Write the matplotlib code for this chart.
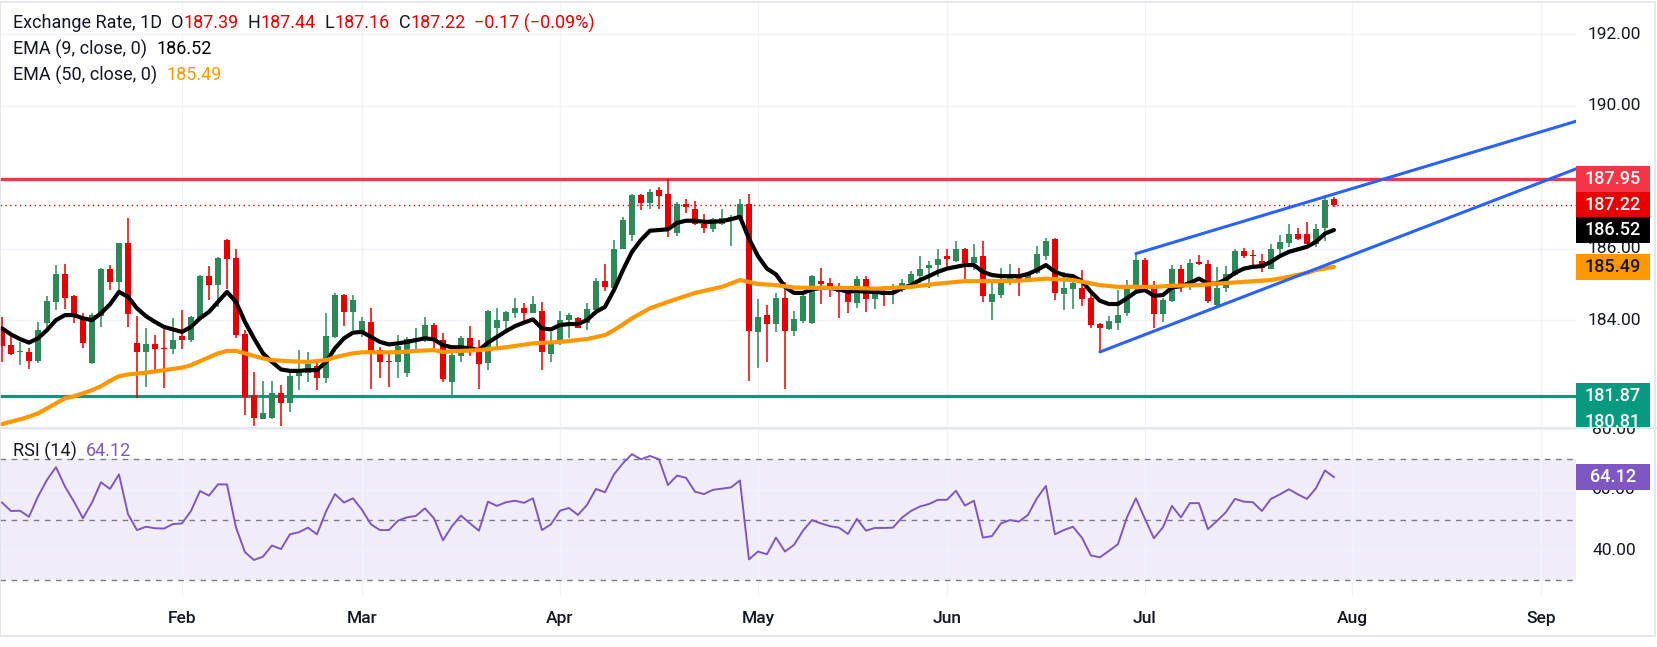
import numpy as np
import matplotlib
matplotlib.use('Agg')
import matplotlib.pyplot as plt
from matplotlib import transforms
from matplotlib.patches import Rectangle
from matplotlib.offsetbox import TextArea, HPacker, AnchoredOffsetbox

plt.rcParams['font.family'] = ['Roboto', 'DejaVu Sans']

# daily candles, one per trading day (index 0 = first bar on screen)
opens = [183.77, 183.30, 183.10, 183.10, 182.86, 183.91, 184.51, 185.30, 184.67, 184.07,
         182.81, 184.12, 185.43, 185.07, 186.15, 183.36, 183.10, 183.33, 183.22, 183.19,
         183.55, 183.44, 184.06, 185.23, 184.99, 186.24, 185.73, 183.61, 181.90, 181.24,
         181.27, 181.95, 181.67, 182.43, 182.51, 182.71, 182.39, 183.53, 184.70, 184.23,
         183.64, 183.94, 183.16, 182.86, 182.83, 182.53, 183.44, 183.51, 183.86, 183.44,
         182.27, 183.00, 183.51, 183.11, 182.81, 183.79, 183.98, 184.20, 184.34, 184.20,
         184.25, 183.05, 183.35, 184.00, 184.07, 183.93, 184.28, 185.09, 184.91, 185.98,
         186.38, 187.50, 187.28, 187.64, 187.52, 186.44, 187.24, 187.12, 186.69, 186.54,
         186.68, 186.84, 186.87, 187.24, 183.67, 184.14, 183.88, 184.62, 183.70, 183.98,
         183.91, 185.09, 185.04, 184.91, 184.79, 184.48, 185.15, 184.59, 184.75, 184.72,
         184.84, 185.03, 185.23, 185.47, 185.54, 185.79, 185.66, 186.00, 185.61, 185.79,
         184.51, 184.70, 185.07, 185.21, 185.12, 185.32, 185.79, 186.28, 184.73, 184.87,
         184.91, 184.61, 183.89, 183.75, 183.93, 184.20, 184.96, 185.68, 184.98, 184.16,
         184.54, 185.44, 184.98, 185.63, 185.58, 184.42, 184.91, 185.26, 185.92, 185.82,
         185.65, 185.44, 185.98, 186.16, 186.40, 186.42, 186.13, 186.58, 187.39]
highs = [184.09, 183.65, 183.39, 183.23, 183.95, 184.68, 185.54, 185.58, 184.70, 184.19,
         184.19, 185.47, 185.54, 186.17, 186.87, 184.11, 183.77, 183.58, 183.74, 184.07,
         184.28, 184.11, 185.26, 185.51, 185.77, 186.26, 186.00, 183.72, 182.54, 182.29,
         182.29, 182.18, 182.55, 183.16, 183.12, 182.79, 184.19, 184.75, 184.73, 184.70,
         184.09, 184.34, 183.25, 183.12, 183.58, 183.53, 183.77, 184.09, 183.91, 183.65,
         183.16, 183.55, 183.83, 183.44, 184.28, 184.33, 184.25, 184.62, 184.47, 184.67,
         184.50, 183.67, 184.25, 184.20, 184.09, 184.47, 185.18, 185.57, 186.24, 186.89,
         187.54, 187.54, 187.68, 187.73, 187.96, 187.31, 187.38, 187.33, 186.97, 186.87,
         187.10, 186.94, 187.40, 187.54, 184.59, 184.42, 184.76, 185.07, 184.25, 184.79,
         185.26, 185.46, 185.19, 185.05, 184.86, 185.23, 185.23, 184.81, 184.95, 185.01,
         185.14, 185.37, 185.79, 185.65, 185.99, 185.99, 186.22, 186.03, 186.12, 186.21,
         185.03, 185.47, 185.58, 185.47, 185.35, 186.07, 186.31, 186.31, 185.35, 185.15,
         185.40, 184.84, 183.93, 184.11, 184.84, 185.12, 185.86, 185.75, 185.09, 184.61,
         185.54, 185.54, 185.70, 185.82, 185.68, 185.49, 185.51, 186.00, 186.03, 185.96,
         185.86, 186.12, 186.38, 186.68, 186.59, 186.75, 186.68, 187.45, 187.44]
lows = [182.83, 183.02, 182.74, 182.63, 182.79, 183.77, 184.28, 184.30, 183.91, 183.23,
        182.77, 183.80, 184.84, 184.84, 183.81, 181.81, 182.13, 182.58, 182.11, 183.05,
        183.19, 183.38, 184.02, 184.56, 184.37, 184.86, 183.49, 181.34, 181.03, 181.24,
        181.24, 181.03, 181.44, 182.04, 182.28, 182.04, 182.25, 183.49, 183.84, 183.72,
        183.53, 182.06, 182.37, 182.14, 182.39, 182.41, 183.07, 183.39, 183.21, 182.27,
        181.90, 182.83, 183.00, 182.07, 182.60, 183.21, 183.65, 184.05, 183.98, 184.19,
        182.60, 182.83, 183.30, 183.49, 183.77, 183.72, 184.28, 184.81, 184.91, 185.98,
        186.22, 187.08, 187.10, 187.10, 186.33, 186.35, 187.00, 186.66, 186.44, 186.47,
        186.66, 186.07, 186.84, 182.30, 182.67, 182.83, 183.67, 182.06, 183.55, 183.91,
        183.89, 184.45, 184.65, 184.07, 184.21, 184.33, 184.23, 184.30, 184.39, 184.45,
        184.79, 184.93, 185.03, 184.91, 185.21, 185.42, 185.63, 185.14, 185.40, 184.51,
        184.00, 184.62, 184.98, 184.68, 185.12, 185.29, 185.68, 184.56, 184.28, 184.32,
        184.39, 183.79, 183.11, 183.72, 183.72, 184.12, 184.75, 184.91, 183.77, 183.95,
        184.51, 184.79, 184.84, 185.54, 184.47, 184.39, 184.79, 185.24, 185.74, 185.49,
        185.35, 185.44, 185.79, 186.05, 186.24, 186.12, 186.05, 186.22, 187.16]
closes = [183.27, 183.05, 183.11, 182.86, 183.72, 184.53, 185.30, 184.62, 184.09, 183.37,
          184.14, 185.43, 185.07, 186.15, 184.18, 183.10, 183.32, 183.20, 183.20, 183.44,
          183.45, 184.09, 185.23, 184.99, 185.73, 185.72, 183.59, 181.86, 181.25, 181.39,
          181.95, 181.67, 182.43, 182.53, 182.76, 182.39, 183.55, 184.70, 184.23, 184.56,
          183.97, 183.13, 182.83, 182.84, 183.27, 183.47, 183.51, 183.86, 183.42, 182.35,
          183.02, 183.51, 183.11, 182.77, 184.25, 184.00, 184.23, 184.34, 184.20, 184.45,
          183.11, 183.39, 184.00, 184.14, 183.79, 184.30, 185.09, 184.93, 185.99, 186.80,
          187.50, 187.28, 187.58, 187.48, 186.59, 187.24, 187.15, 186.68, 186.59, 186.83,
          186.87, 186.89, 187.24, 183.70, 184.09, 183.88, 184.62, 183.70, 184.03, 184.68,
          185.23, 185.01, 184.84, 184.79, 184.51, 185.15, 184.59, 184.75, 184.70, 184.79,
          185.03, 185.28, 185.44, 185.54, 185.71, 185.70, 186.00, 185.60, 185.77, 184.68,
          184.72, 185.12, 185.21, 185.12, 185.32, 185.84, 186.22, 184.76, 184.91, 185.03,
          184.59, 183.86, 183.79, 183.97, 184.14, 184.98, 185.68, 184.95, 184.16, 184.56,
          185.44, 184.98, 185.61, 185.58, 184.54, 184.91, 185.29, 185.93, 185.79, 185.79,
          185.46, 186.00, 186.19, 186.42, 186.26, 186.14, 186.56, 187.37, 187.22]

# EMA(9) read per bar, EMA(50) read at sampled bars
ema9 = [183.77, 183.60, 183.47, 183.37, 183.49, 183.72, 184.00, 184.14, 184.14, 184.05,
        184.00, 184.19, 184.44, 184.79, 184.65, 184.33, 184.11, 183.95, 183.81, 183.74,
        183.67, 183.81, 184.05, 184.23, 184.51, 184.79, 184.51, 183.95, 183.49, 183.07,
        182.83, 182.62, 182.58, 182.58, 182.60, 182.60, 182.83, 183.21, 183.49, 183.65,
        183.67, 183.53, 183.39, 183.32, 183.35, 183.39, 183.44, 183.49, 183.46, 183.30,
        183.24, 183.24, 183.21, 183.16, 183.37, 183.53, 183.69, 183.83, 183.93, 184.02,
        183.77, 183.74, 183.86, 183.89, 183.89, 184.00, 184.23, 184.37, 184.84, 185.40,
        185.91, 186.24, 186.50, 186.52, 186.54, 186.72, 186.78, 186.78, 186.75, 186.75,
        186.77, 186.82, 186.89, 186.28, 185.79, 185.44, 185.28, 184.93, 184.76, 184.76,
        184.86, 184.90, 184.90, 184.86, 184.79, 184.82, 184.79, 184.79, 184.76, 184.76,
        184.89, 184.98, 185.12, 185.23, 185.35, 185.44, 185.49, 185.54, 185.54, 185.35,
        185.26, 185.23, 185.23, 185.23, 185.29, 185.40, 185.54, 185.35, 185.26, 185.23,
        185.09, 184.79, 184.54, 184.45, 184.45, 184.61, 184.79, 184.84, 184.68, 184.70,
        184.91, 184.95, 185.04, 185.16, 185.02, 185.02, 185.14, 185.32, 185.44, 185.49,
        185.51, 185.63, 185.79, 185.91, 185.98, 186.05, 186.19, 186.42, 186.52]
ema50_bar = [0, 1, 2, 3, 4, 5, 6, 7, 8, 9, 10, 11, 12, 13, 14, 16, 18, 20, 21, 22, 23, 24,
             25, 26, 27, 28, 29, 30, 32, 34, 36, 37, 38, 39, 40, 44, 46, 48, 49, 50, 53, 56,
             59, 62, 65, 67, 68, 69, 70, 72, 74, 77, 80, 82, 83, 84, 86, 88, 91, 94, 97, 101,
             104, 107, 110, 113, 116, 119, 122, 124, 128, 130, 133, 135, 138, 141, 143, 145,
             146, 148]
ema50 = [181.09, 181.16, 181.22, 181.30, 181.39, 181.53, 181.67, 181.81, 181.87, 181.95,
         182.04, 182.15, 182.30, 182.43, 182.48, 182.53, 182.60, 182.67, 182.74, 182.85,
         182.96, 183.07, 183.14, 183.14, 183.07, 183.00, 182.93, 182.88, 182.85, 182.83,
         182.88, 182.96, 183.02, 183.07, 183.10, 183.10, 183.14, 183.16, 183.11, 183.13,
         183.16, 183.24, 183.35, 183.39, 183.47, 183.58, 183.72, 183.88, 184.05, 184.33,
         184.51, 184.76, 184.93, 185.12, 185.07, 185.01, 184.98, 184.91, 184.90, 184.90,
         184.88, 184.93, 185.02, 185.09, 185.09, 185.10, 185.16, 185.12, 184.98, 184.93,
         184.93, 184.96, 184.98, 185.02, 185.07, 185.12, 185.21, 185.32, 185.40, 185.49]

rsi = [55.7, 52.9, 53.0, 51.0, 57.7, 63.2, 67.4, 61.0, 56.0, 50.5,
       55.7, 62.4, 60.2, 65.0, 51.9, 46.6, 47.7, 47.2, 47.1, 48.6,
       48.8, 52.9, 59.5, 58.0, 61.7, 61.7, 47.5, 39.3, 36.7, 37.8,
       41.5, 40.3, 45.2, 45.9, 47.4, 45.2, 52.7, 58.5, 55.7, 57.1,
       53.3, 48.5, 46.6, 46.6, 49.7, 50.8, 51.3, 53.8, 50.5, 43.2,
       47.9, 51.4, 48.8, 46.4, 56.0, 54.6, 55.8, 56.3, 55.6, 57.1,
       46.6, 48.5, 53.0, 53.9, 51.6, 54.9, 60.2, 59.1, 65.0, 68.7,
       71.7, 70.0, 71.1, 70.0, 61.5, 64.6, 63.9, 59.3, 58.5, 59.9,
       60.3, 60.7, 63.0, 36.9, 39.5, 38.6, 44.1, 39.5, 41.7, 46.4,
       49.9, 48.8, 47.9, 47.4, 45.3, 50.3, 46.4, 47.3, 47.3, 47.4,
       50.7, 52.9, 54.4, 55.2, 56.6, 56.6, 59.6, 54.7, 56.3, 44.1,
       44.6, 48.8, 49.9, 49.4, 51.6, 57.1, 61.2, 45.2, 46.6, 47.7,
       44.1, 38.2, 37.6, 39.7, 41.9, 50.8, 57.1, 50.3, 43.9, 47.5,
       54.6, 50.8, 55.5, 55.5, 46.9, 49.6, 52.5, 56.9, 56.0, 55.8,
       52.9, 56.9, 58.4, 60.1, 58.4, 56.9, 60.4, 66.3, 64.12]

months = ['Feb', 'Mar', 'Apr', 'May', 'Jun', 'Jul', 'Aug', 'Sep']
month_bar = [20, 40, 62, 84, 105, 127, 150, 171]

resistance = 187.95
support = 181.87
last_close = 187.22
channel_upper = ([126, 175], [185.86, 189.57])
channel_lower = ([122, 175], [183.11, 188.24])

price_grid = [192, 190, 188, 186, 184, 182]
price_labels = [192, 190, 186, 184]   # 188 / 182 sit under the level tags
rsi_ticks = [80, 60, 40]

GREEN = '#2b8a57'
RED = '#e60000'
GRID = '#f0f3fa'
TXT = '#131722'

W, H = 1658, 647
fig = plt.figure(figsize=(W / 100, H / 100), dpi=100)


def fx(px):
    return px / W


def fy(py):
    return 1 - py / H


ax = fig.add_axes([0, fy(427), fx(1576), fy(3) - fy(427)])
ax_rsi = fig.add_axes([0, fy(596), fx(1576), fy(428) - fy(596)], sharex=ax)
ax.set_xlim(-0.22, 174.9)
ax.set_ylim(181.01, 192.87)
ax_rsi.set_ylim(24.8, 80.35)

for a in (ax, ax_rsi):
    for s in a.spines.values():
        s.set_visible(False)
    a.set_xticks(month_bar)
    a.grid(True, color=GRID, lw=1.0)
    a.set_axisbelow(True)
    a.tick_params(length=0, labelleft=False)
ax.set_yticks(price_grid)
ax.tick_params(labelbottom=False)
ax_rsi.set_yticks(rsi_ticks)
ax_rsi.set_xticklabels(months, fontweight='medium')
ax_rsi.tick_params(axis='x', pad=11, labelsize=12.5, labelcolor=TXT)

# candles
o = np.array(opens)
h = np.array(highs)
lo = np.array(lows)
c = np.array(closes)
x = np.arange(len(c))
cols = np.where(c >= o, GREEN, RED)
ax.vlines(x, lo, h, colors=cols, lw=1.1, zorder=3)
ax.bar(x, np.maximum(np.abs(c - o), 0.03), bottom=np.minimum(o, c), width=0.72,
       color=cols, linewidth=0, zorder=3)

# levels / channel
ax.axhline(resistance, color='#f23645', lw=2.3, zorder=2)
ax.axhline(support, color='#089981', lw=2.3, zorder=2)
ax.axhline(last_close, color=RED, lw=1.0, ls=(0, (1, 2.5)), zorder=2)
ax.plot(*channel_upper, color='#2962ff', lw=2.2, zorder=5, solid_capstyle='round')
ax.plot(*channel_lower, color='#2962ff', lw=2.2, zorder=5, solid_capstyle='round')

# moving averages
ax.plot(x, ema9, color='black', lw=3.0, zorder=4, solid_joinstyle='round',
        solid_capstyle='round')
ax.plot(ema50_bar, ema50, color='#ff9800', lw=3.0, zorder=4, solid_joinstyle='round',
        solid_capstyle='round')

# RSI pane
ax_rsi.axhspan(30, 70, color='#7e57c2', alpha=0.1, lw=0, zorder=0)
for lvl in (70, 50, 30):
    ax_rsi.axhline(lvl, color='#787b86', lw=1.0, ls=(0, (4, 4)), zorder=1)
ax_rsi.plot(np.arange(len(rsi)), rsi, color='#7e57c2', lw=1.4, zorder=3)

# pane separator and outer frame
fig.add_artist(plt.Line2D([0, 1], [fy(427.5), fy(427.5)], color='#e0e3eb', lw=1.2))
fig.add_artist(Rectangle((fx(0.5), fy(636)), fx(1655) - fx(0.5), fy(1.5) - fy(636),
                         fill=False, ec='#e0e3eb', lw=1.2))

# right-hand price scale
main_clip = Rectangle((0, fy(427)), 1, fy(0) - fy(427), transform=fig.transFigure)
rsi_clip = Rectangle((0, fy(596)), 1, fy(428) - fy(596), transform=fig.transFigure)
tr_main = transforms.blended_transform_factory(fig.transFigure, ax.transData)
tr_rsi = transforms.blended_transform_factory(fig.transFigure, ax_rsi.transData)

for v in price_labels:
    t = fig.text(fx(1614), v, f'{v:.2f}', transform=tr_main, ha='center', va='center',
                 fontsize=12.5, color=TXT)
    t.set_clip_path(main_clip)
for v in rsi_ticks:
    t = fig.text(fx(1614), v, f'{v:.2f}', transform=tr_rsi, ha='center', va='center',
                 fontsize=12.5, color=TXT)
    t.set_clip_path(rsi_clip)


def tag(value, shown, color, tr, px_per_unit, clip, txt='white'):
    hh = 26 / px_per_unit
    r = Rectangle((fx(1576), value - hh / 2), fx(1650) - fx(1576), hh, transform=tr,
                  fc=color, ec='none', zorder=5)
    fig.add_artist(r)
    r.set_clip_path(clip)
    t = fig.text(fx(1613), value, f'{shown:.2f}', transform=tr, ha='center', va='center',
                 fontsize=13, fontweight='medium', color=txt, zorder=6)
    t.set_clip_path(clip)


ppu = 35.75
tag(187.95, resistance, '#f23645', tr_main, ppu, main_clip)
tag(187.22, last_close, RED, tr_main, ppu, main_clip)
tag(186.52, ema9[-1], 'black', tr_main, ppu, main_clip)
tag(185.49, ema50[-1], '#ff9800', tr_main, ppu, main_clip, txt=TXT)
tag(181.87, support, '#089981', tr_main, ppu, main_clip)
tag(181.87 - 26 / ppu, 180.81, '#089981', tr_main, ppu, main_clip)
tag(64.12, rsi[-1], '#7e57c2', tr_rsi, 3.025, rsi_clip)


# legends
def legend_row(parts, y_px, fs=13):
    boxes = [TextArea(s, textprops=dict(color=col, fontsize=fs)) for s, col in parts]
    pack = HPacker(children=boxes, align='baseline', pad=0, sep=0)
    ab = AnchoredOffsetbox(loc='center left', child=pack, pad=0, borderpad=0, frameon=False,
                           bbox_to_anchor=(fx(13), fy(y_px)), bbox_transform=fig.transFigure)
    ab.set_zorder(10)
    fig.add_artist(ab)


legend_row([('Exchange Rate, 1D  O', TXT), (f'{opens[-1]:.2f}', RED), ('  H', TXT),
            (f'{highs[-1]:.2f}', RED), ('  L', TXT), (f'{lows[-1]:.2f}', RED), ('  C', TXT),
            (f'{closes[-1]:.2f}', RED),
            (f'  \u22120.17 (\u22120.09%)', RED)], 23)
legend_row([('EMA (9, close, 0)  ', TXT), (f'{ema9[-1]:.2f}', 'black')], 49)
legend_row([('EMA (50, close, 0)  ', TXT), (f'{ema50[-1]:.2f}', '#ff9800')], 75)
legend_row([('RSI (14)  ', TXT), (f'{rsi[-1]:.2f}', '#7e57c2')], 451)

fig.savefig('out.png', dpi=100)
